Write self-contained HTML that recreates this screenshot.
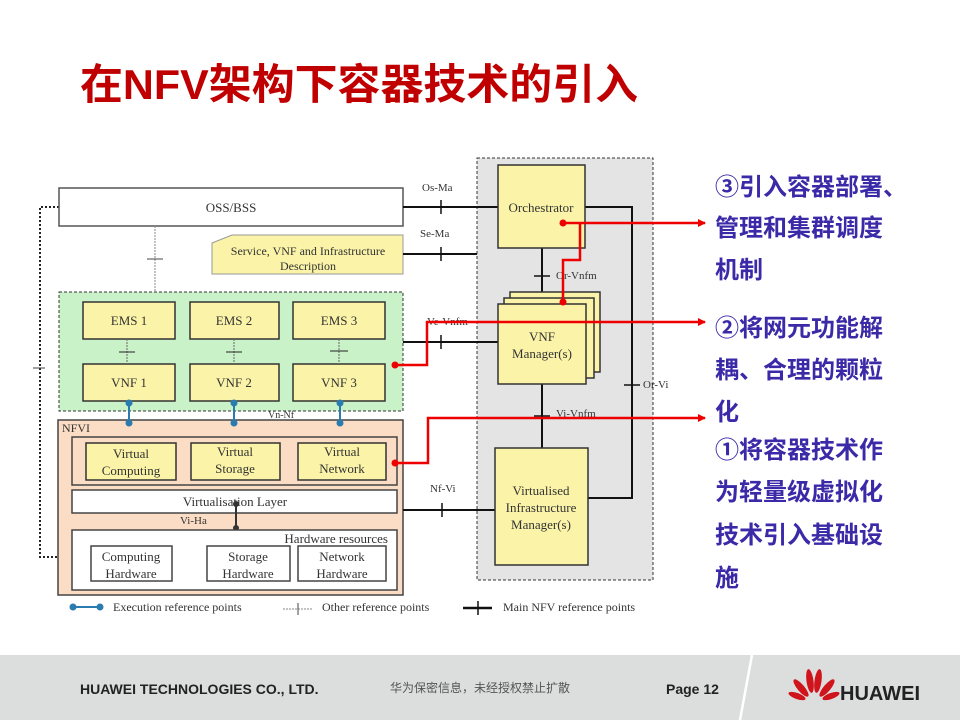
<!DOCTYPE html>
<html><head><meta charset="utf-8"><style>
html,body{margin:0;padding:0;background:#fff;}
svg{display:block;}
.s{font-family:"Liberation Serif","Noto Serif CJK SC",serif;fill:#333;}
.c{font-family:"Liberation Sans","Noto Sans CJK SC",sans-serif;}
</style></head><body>
<svg width="960" height="720" viewBox="0 0 960 720" xmlns="http://www.w3.org/2000/svg">
<defs>
<marker id="ar" markerWidth="8" markerHeight="8" refX="7" refY="4" orient="auto" markerUnits="userSpaceOnUse"><path d="M0,0 L8,4 L0,8 z" fill="#e00"/></marker>
</defs>
<text x="80" y="99" class="c" font-size="42" font-weight="bold" fill="#c00000" textLength="558" lengthAdjust="spacingAndGlyphs">在NFV架构下容器技术的引入</text>

<rect x="477" y="158" width="176" height="422" fill="#e4e4e4" stroke="#333" stroke-dasharray="3,2"/>

<path d="M59,207 H40 V557 H72" fill="none" stroke="#222" stroke-width="2" stroke-dasharray="2,2"/>
<line x1="33" y1="368" x2="45" y2="368" stroke="#444"/>

<rect x="59" y="188" width="344" height="38" fill="#fff" stroke="#555" stroke-width="1.5"/>
<text x="231" y="212" class="s" font-size="13" text-anchor="middle">OSS/BSS</text>
<line x1="155" y1="226" x2="155" y2="292" stroke="#888" stroke-dasharray="2,1"/>
<line x1="147" y1="259" x2="163" y2="259" stroke="#444"/>
<path d="M212,243 L232,235 H403 V274 H212 Z" fill="#fbf4a8" stroke="#999"/>
<text x="308" y="255" class="s" font-size="12" text-anchor="middle">Service, VNF and Infrastructure</text>
<text x="308" y="270" class="s" font-size="12" text-anchor="middle">Description</text>

<rect x="59" y="292" width="344" height="119" fill="#c9f2c9" stroke="#333" stroke-dasharray="3,2"/>
<g fill="#fbf4a8" stroke="#333" stroke-width="1.5">
<rect x="83" y="302" width="92" height="37"/><rect x="190" y="302" width="89" height="37"/><rect x="293" y="302" width="92" height="37"/>
<rect x="83" y="364" width="92" height="37"/><rect x="190" y="364" width="89" height="37"/><rect x="293" y="364" width="92" height="37"/>
</g>
<g class="s" font-size="13" text-anchor="middle">
<text x="129" y="325">EMS 1</text><text x="234" y="325">EMS 2</text><text x="339" y="325">EMS 3</text>
<text x="129" y="387">VNF 1</text><text x="234" y="387">VNF 2</text><text x="339" y="387">VNF 3</text>
</g>
<g stroke="#666" stroke-dasharray="2,1"><line x1="127" y1="339" x2="127" y2="364"/><line x1="234" y1="339" x2="234" y2="364"/><line x1="339" y1="339" x2="339" y2="364"/></g>
<g stroke="#222"><line x1="119" y1="352" x2="135" y2="352"/><line x1="226" y1="352" x2="242" y2="352"/><line x1="330" y1="351" x2="348" y2="351"/></g>

<rect x="58" y="420" width="345" height="175" fill="#fbdcc4" stroke="#444" stroke-width="1.5"/>
<text x="62" y="432" class="s" font-size="12">NFVI</text>
<g stroke="#2a7bb0" stroke-width="2" fill="#2a7bb0">
<line x1="129" y1="401" x2="129" y2="424"/><circle cx="129" cy="403" r="2.5"/><circle cx="129" cy="423" r="2.5"/>
<line x1="234" y1="401" x2="234" y2="424"/><circle cx="234" cy="403" r="2.5"/><circle cx="234" cy="423" r="2.5"/>
<line x1="340" y1="401" x2="340" y2="424"/><circle cx="340" cy="403" r="2.5"/><circle cx="340" cy="423" r="2.5"/>
</g>
<text x="268" y="418" class="s" font-size="10">Vn-Nf</text>
<rect x="72" y="437" width="325" height="48" fill="#fbdcc4" stroke="#444" stroke-width="1.5"/>
<g fill="#fbf4a8" stroke="#333" stroke-width="1.5"><rect x="86" y="443" width="90" height="37"/><rect x="191" y="443" width="89" height="37"/><rect x="298" y="443" width="88" height="37"/></g>
<g class="s" font-size="13" text-anchor="middle">
<text x="131" y="458">Virtual</text><text x="131" y="475">Computing</text>
<text x="235" y="456">Virtual</text><text x="235" y="473">Storage</text>
<text x="342" y="456">Virtual</text><text x="342" y="473">Network</text>
</g>
<rect x="72" y="490" width="325" height="23" fill="#fff" stroke="#444" stroke-width="1.5"/>
<text x="235" y="506" class="s" font-size="13" text-anchor="middle">Virtualisation Layer</text>
<line x1="236" y1="504" x2="236" y2="528" stroke="#333" stroke-width="2"/><circle cx="236" cy="504" r="3" fill="#333"/><circle cx="236" cy="528" r="3" fill="#333"/>
<text x="180" y="524" class="s" font-size="11">Vi-Ha</text>
<rect x="72" y="530" width="325" height="60" fill="#fff" stroke="#444" stroke-width="1.5"/>
<text x="388" y="543" class="s" font-size="13" text-anchor="end">Hardware resources</text>
<g fill="#fff" stroke="#444" stroke-width="1.5"><rect x="91" y="546" width="81" height="35"/><rect x="207" y="546" width="83" height="35"/><rect x="298" y="546" width="88" height="35"/></g>
<g class="s" font-size="13" text-anchor="middle">
<text x="131" y="561">Computing</text><text x="131" y="578">Hardware</text>
<text x="248" y="561">Storage</text><text x="248" y="578">Hardware</text>
<text x="342" y="561">Network</text><text x="342" y="578">Hardware</text>
</g>

<g stroke="#111" stroke-width="2" fill="none">
<line x1="403" y1="207" x2="498" y2="207"/>
<line x1="403" y1="254" x2="477" y2="254"/>
<line x1="403" y1="342" x2="498" y2="342"/>
<line x1="403" y1="510" x2="495" y2="510"/>
<line x1="542" y1="248" x2="542" y2="304"/>
<line x1="542" y1="384" x2="542" y2="448"/>
<path d="M585,207 H632 V498 H588"/>
</g>
<g stroke="#111" stroke-width="1.5">
<line x1="441" y1="200" x2="441" y2="214"/><line x1="441" y1="247" x2="441" y2="261"/>
<line x1="441" y1="335" x2="441" y2="349"/><line x1="442" y1="503" x2="442" y2="517"/>
<line x1="534" y1="276" x2="550" y2="276"/><line x1="534" y1="416" x2="550" y2="416"/>
<line x1="624" y1="385" x2="640" y2="385"/>
</g>
<g class="s" font-size="11" fill="#335">
<text x="422" y="191">Os-Ma</text><text x="420" y="237">Se-Ma</text><text x="427" y="325">Ve-Vnfm</text>
<text x="430" y="492">Nf-Vi</text><text x="556" y="279">Or-Vnfm</text><text x="556" y="417">Vi-Vnfm</text><text x="643" y="388">Or-Vi</text>
</g>

<rect x="498" y="165" width="87" height="83" fill="#fbf4a8" stroke="#333" stroke-width="1.5"/>
<text x="541" y="212" class="s" font-size="13" text-anchor="middle">Orchestrator</text>
<g fill="#fbf4a8" stroke="#333" stroke-width="1.5">
<rect x="510" y="292" width="90" height="80"/><rect x="504" y="298" width="90" height="80"/><rect x="498" y="304" width="88" height="80"/>
</g>
<text x="542" y="341" class="s" font-size="13" text-anchor="middle">VNF</text>
<text x="542" y="358" class="s" font-size="13" text-anchor="middle">Manager(s)</text>
<rect x="495" y="448" width="93" height="117" fill="#fbf4a8" stroke="#333" stroke-width="1.5"/>
<g class="s" font-size="13" text-anchor="middle"><text x="541" y="495">Virtualised</text><text x="541" y="512">Infrastructure</text><text x="541" y="529">Manager(s)</text></g>

<g stroke="#e00" stroke-width="2.5" fill="none">
<path d="M563,223 H705" marker-end="url(#ar)"/>
<path d="M580,223 V260 H563 V302"/>
<path d="M395,365 H427 V322 H705" marker-end="url(#ar)"/>
<path d="M395,463 H428 V418 H705" marker-end="url(#ar)"/>
</g>
<g fill="#e00"><circle cx="563" cy="223" r="3.5"/><circle cx="563" cy="302" r="3.5"/><circle cx="395" cy="365" r="3.5"/><circle cx="395" cy="463" r="3.5"/></g>

<g stroke="#2a7bb0" stroke-width="2" fill="#2a7bb0"><line x1="73" y1="607" x2="100" y2="607"/><circle cx="73" cy="607" r="2.5"/><circle cx="100" cy="607" r="2.5"/></g>
<line x1="283" y1="609" x2="313" y2="609" stroke="#888" stroke-dasharray="2,1"/><line x1="298" y1="603" x2="298" y2="615" stroke="#444"/>
<line x1="463" y1="608" x2="492" y2="608" stroke="#111" stroke-width="2.5"/><line x1="478" y1="601" x2="478" y2="615" stroke="#111" stroke-width="1.5"/>
<g class="s" font-size="12" fill="#444"><text x="113" y="611">Execution reference points</text><text x="322" y="611">Other reference points</text><text x="503" y="611">Main NFV reference points</text></g>

<g class="c" font-size="24" font-weight="bold" fill="#3a2aa8">
<text x="715" y="195">③引入容器部署、</text><text x="715" y="236">管理和集群调度</text><text x="715" y="278">机制</text>
<text x="715" y="336">②将网元功能解</text><text x="715" y="378">耦、合理的颗粒</text><text x="715" y="420">化</text>
<text x="715" y="458">①将容器技术作</text><text x="715" y="500">为轻量级虚拟化</text><text x="715" y="543">技术引入基础设</text><text x="715" y="586">施</text>
</g>

<rect x="0" y="655" width="960" height="65" fill="#dcdddd"/>
<path d="M752,655 L740,720" stroke="#fff" stroke-width="2.5"/>
<text x="80" y="694" class="c" font-size="14" font-weight="bold" fill="#222">HUAWEI TECHNOLOGIES CO., LTD.</text>
<text x="390" y="692" class="c" font-size="12" fill="#555">华为保密信息，未经授权禁止扩散</text>
<text x="666" y="694" class="c" font-size="14" font-weight="bold" fill="#222">Page 12</text>
<g fill="#d0141c">
<ellipse cx="810" cy="681" rx="3.5" ry="12" transform="rotate(-8 810 681)"/>
<ellipse cx="818" cy="681" rx="3.5" ry="12" transform="rotate(8 818 681)"/>
<ellipse cx="801" cy="688" rx="3.5" ry="11" transform="rotate(-40 801 688)"/>
<ellipse cx="827" cy="688" rx="3.5" ry="11" transform="rotate(40 827 688)"/>
<ellipse cx="797" cy="696" rx="3" ry="9" transform="rotate(-70 797 696)"/>
<ellipse cx="831" cy="696" rx="3" ry="9" transform="rotate(70 831 696)"/>
</g>
<text x="840" y="700" class="c" font-size="20" font-weight="bold" fill="#222">HUAWEI</text>
</svg>
</body></html>
